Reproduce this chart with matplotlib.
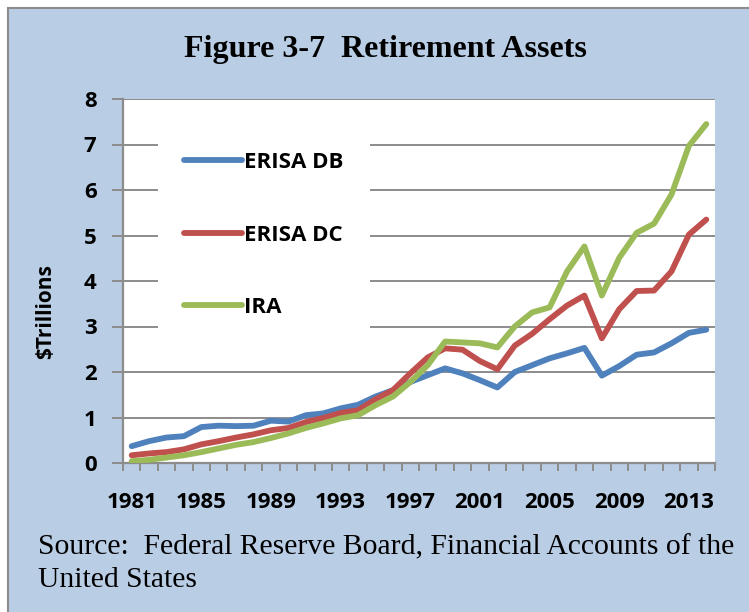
import matplotlib.pyplot as plt
from matplotlib.patches import Rectangle
import numpy as np

years = list(range(1981, 2015))
erisa_db = [0.37, 0.48, 0.56, 0.59, 0.79, 0.82, 0.81, 0.82, 0.93, 0.91,
            1.05, 1.09, 1.20, 1.28, 1.46, 1.60, 1.78, 1.93, 2.08, 1.97,
            1.82, 1.66, 2.00, 2.15, 2.30, 2.41, 2.53, 1.92, 2.13, 2.38,
            2.43, 2.63, 2.86, 2.93]
erisa_dc = [0.17, 0.21, 0.24, 0.30, 0.41, 0.48, 0.56, 0.63, 0.72, 0.77,
            0.90, 0.99, 1.10, 1.16, 1.40, 1.60, 1.97, 2.32, 2.52, 2.49,
            2.24, 2.06, 2.58, 2.84, 3.16, 3.46, 3.68, 2.74, 3.38, 3.78,
            3.79, 4.21, 5.02, 5.35]
ira = [0.04, 0.07, 0.12, 0.17, 0.24, 0.32, 0.40, 0.46, 0.55, 0.65,
       0.77, 0.87, 0.98, 1.05, 1.27, 1.46, 1.78, 2.15, 2.67, 2.65,
       2.63, 2.54, 3.00, 3.31, 3.42, 4.21, 4.76, 3.68, 4.51, 5.06,
       5.26, 5.90, 6.97, 7.45]
series = [("ERISA DB", erisa_db, "#4F81BD"),
          ("ERISA DC", erisa_dc, "#C0504D"),
          ("IRA", ira, "#9BBB59")]
xlabels = [1981, 1985, 1989, 1993, 1997, 2001, 2005, 2009, 2013]

bg = "#B9CDE5"
gridc = "#8C8C8C"
sans = ["Open Sans", "DejaVu Sans"]

fig = plt.figure(figsize=(7.49, 6.12), dpi=100, facecolor="white")
fig.patches.append(Rectangle((8 / 749, -0.05), 1.1, 1.05 - 8 / 612,
                             transform=fig.transFigure, facecolor=bg,
                             edgecolor="#8C8C8C", linewidth=1.5, zorder=-5))

ax = fig.add_axes([123 / 749, 149 / 612, 592 / 749, 364 / 612])
ax.set_facecolor("white")

for name, vals, col in series:
    ax.plot(years, vals, color=col, linewidth=4.2, label=name,
            solid_capstyle="round", solid_joinstyle="round", zorder=3)

ax.set_xlim(1980.5, 2014.5)
ax.set_ylim(0, 8)
ax.set_yticks(range(0, 9))
ax.yaxis.grid(True, color=gridc, linewidth=1.4)
ax.set_axisbelow(True)

ax.set_xticks(xlabels)
ax.set_xticks(np.arange(1980.5, 2015, 1), minor=True)
ax.tick_params(axis="x", which="major", length=0, pad=21)
ax.tick_params(axis="x", which="minor", length=6, width=1.4, color=gridc,
               direction="out")
ax.tick_params(axis="y", length=8, width=1.4, color=gridc, pad=11)

for sp in ["top", "right"]:
    ax.spines[sp].set_visible(False)
for sp in ["left", "bottom"]:
    ax.spines[sp].set_color(gridc)
    ax.spines[sp].set_linewidth(1.6)

for lab in ax.get_xticklabels() + ax.get_yticklabels():
    lab.set_family(sans)
    lab.set_fontweight("bold")
    lab.set_fontsize(16)

fig.text(46 / 749, (612 - 312) / 612, r"\$Trillions", rotation=90,
         ha="center", va="center", fontsize=15, fontweight="bold", family=sans)

leg = ax.legend(loc="upper left", bbox_to_anchor=(0.04, 0.958), frameon=True,
                facecolor="white", edgecolor="none", framealpha=1,
                fancybox=False, prop={"family": sans, "weight": "bold", "size": 16},
                handlelength=2.6, handletextpad=0.1, labelspacing=2.32,
                borderpad=1.2)
leg.set_zorder(4)

fig.text(385 / 749, (612 - 57) / 612, "Figure 3-7  Retirement Assets",
         ha="center", va="baseline", family="Liberation Serif",
         fontweight="bold", fontsize=23)
# baseline alignment of a two-line text sits on the last line
fig.text(38 / 749, (612 - 587) / 612,
         "Source:  Federal Reserve Board, Financial Accounts of the\nUnited States",
         ha="left", va="baseline", family="Liberation Serif", fontsize=21.3,
         linespacing=1.33)

fig.savefig("out.png", dpi=100, facecolor="white")
